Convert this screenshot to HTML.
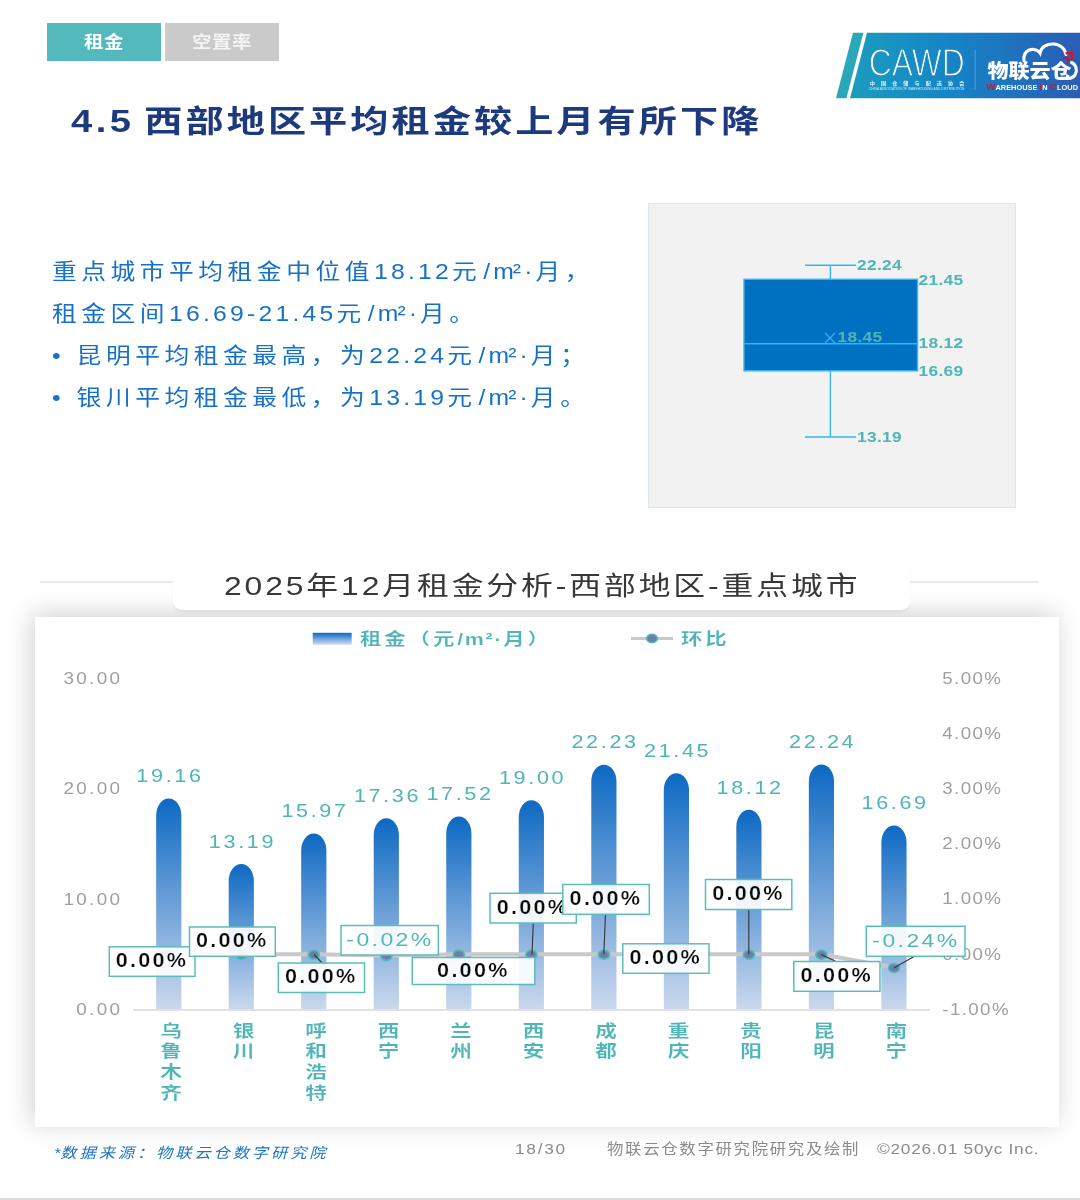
<!DOCTYPE html>
<html lang="zh-CN"><head><meta charset="utf-8"><title>4.5 西部地区平均租金较上月有所下降</title>
<style>
html,body{margin:0;padding:0}
body{width:1080px;height:1200px;position:relative;overflow:hidden;background:#fff;font-family:"Liberation Sans","Noto Sans CJK SC",sans-serif;}
svg text{font-family:"Liberation Sans","Noto Sans CJK SC",sans-serif;}
.abs{position:absolute}
</style></head><body>
<div class="abs" style="left:47px;top:23px;width:113.5px;height:38px;background:#53b9bd"></div>
<div class="abs" style="left:165px;top:23px;width:114px;height:38px;background:#c9cac9"></div>
<div style="position:absolute;top:30.5px;line-height:23.1px;font-size:16.5px;color:#fff;font-weight:700;white-space:nowrap;letter-spacing:0.5px;left:104px;transform-origin:50% 50%;transform:translateX(-50%) scaleX(1.18);">租金</div>
<div style="position:absolute;top:30.5px;line-height:23.1px;font-size:16.5px;color:#f4f4f4;font-weight:700;white-space:nowrap;letter-spacing:0.5px;left:222.3px;transform-origin:50% 50%;transform:translateX(-50%) scaleX(1.18);">空置率</div>
<svg class="abs" style="left:830px;top:28px" width="250" height="76" viewBox="830 28 250 76">
<defs><linearGradient id="lg" gradientUnits="userSpaceOnUse" x1="849" x2="1080" y1="0" y2="0"><stop offset="0" stop-color="#1b9dbe"/><stop offset="0.45" stop-color="#1584c7"/><stop offset="1" stop-color="#2b5db5"/></linearGradient></defs>
<polygon points="853,32.7 863.4,32.7 846.4,98.2 836,98.2" fill="#2aa7b8"/>
<polygon points="867,32.7 1080,32.7 1080,98.2 850,98.2" fill="url(#lg)"/>
<line x1="975.2" y1="50" x2="975.2" y2="89.5" stroke="#58a4db" stroke-width="0.9"/>
<text x="868.8" y="76.4" font-size="38.5" textLength="96" lengthAdjust="spacingAndGlyphs" fill="#fff" stroke="url(#lg)" stroke-width="1.3">CAWD</text>
<text x="869.8" y="85" font-size="5.1" font-weight="700" textLength="94.5" lengthAdjust="spacing" fill="#e4f6fb">中国仓储与配送协会</text>
<text x="869" y="90.4" font-size="3" textLength="95.3" lengthAdjust="spacingAndGlyphs" fill="#cfe8f8">CHINA ASSOCIATION OF WAREHOUSING AND DISTRIBUTION</text>
<text x="987.4" y="78.3" font-size="19.5" font-weight="900" textLength="84" lengthAdjust="spacingAndGlyphs" fill="#fff">物联云仓</text>
<g fill="none" stroke="#fff" stroke-width="3.1" stroke-linecap="round">
<path d="M1024,61 C1023,53 1028,48.5 1034,49.5 C1037,50 1039,51.5 1040,53 C1041,47 1047,43.8 1053.5,44 C1060,44.2 1065,48.5 1066,54.5"/>
<path d="M1071.5,62.5 C1076,64.5 1077.5,70 1075.5,74 C1074,77.3 1071.5,78.4 1068,78.4 L1060,78.4"/>
</g>
<path d="M1065.6,53.2 L1072,53.2 L1072,59.5" fill="none" stroke="#e20f1c" stroke-width="2.4"/>
<path d="M1063,58.2 L1068,58.2 L1068,62.8" fill="none" stroke="#c4161f" stroke-width="1.8"/>
<text x="986" y="89.6" font-size="7.1" font-weight="700" textLength="92" lengthAdjust="spacingAndGlyphs" fill="#fff"><tspan fill="#e20f1c" font-size="9.6">W</tspan>AREHOUSE <tspan fill="#e20f1c" font-size="9.6">I</tspan>N <tspan fill="#e20f1c" font-size="9.6">C</tspan>LOUD</text>
</svg>
<div style="position:absolute;top:100.3px;line-height:43.4px;font-size:31px;color:#1e3a7e;font-weight:700;white-space:nowrap;letter-spacing:2.5px;left:70.5px;transform-origin:0 50%;transform:scaleX(1.23);"><span style="letter-spacing:2.8px">4.5</span><span style="letter-spacing:-0.52px;white-space:pre"> </span>西部地区平均租金较上月有所下降</div>
<div style="position:absolute;top:256.9px;line-height:30.1px;font-size:21.5px;color:#1771c6;font-weight:400;white-space:nowrap;letter-spacing:3.95px;left:52px;transform-origin:0 50%;transform:scaleX(1.15);">重点城市平均租金中位值<span style="letter-spacing:2.8px">18.12</span>元<span style="letter-spacing:2.7px;margin-left:1.7px">/</span><span style="letter-spacing:-0.8px">m</span><span style="letter-spacing:2.7px">²·</span>月，</div>
<div style="position:absolute;top:298.9px;line-height:30.1px;font-size:21.5px;color:#1771c6;font-weight:400;white-space:nowrap;letter-spacing:3.95px;left:52px;transform-origin:0 50%;transform:scaleX(1.15);">租金区间<span style="letter-spacing:2.8px">16.69-21.45</span>元<span style="letter-spacing:2.7px;margin-left:1.7px">/</span><span style="letter-spacing:-0.8px">m</span><span style="letter-spacing:2.7px">²·</span>月。</div>
<div style="position:absolute;top:340.9px;line-height:30.1px;font-size:21.5px;color:#1771c6;font-weight:400;white-space:nowrap;letter-spacing:3.95px;left:52px;transform-origin:0 50%;transform:scaleX(1.15);">•&nbsp;昆明平均租金最高，为<span style="letter-spacing:2.8px">22.24</span>元<span style="letter-spacing:2.7px;margin-left:1.7px">/</span><span style="letter-spacing:-0.8px">m</span><span style="letter-spacing:2.7px">²·</span>月；</div>
<div style="position:absolute;top:382.9px;line-height:30.1px;font-size:21.5px;color:#1771c6;font-weight:400;white-space:nowrap;letter-spacing:3.95px;left:52px;transform-origin:0 50%;transform:scaleX(1.15);">•&nbsp;银川平均租金最低，为<span style="letter-spacing:2.8px">13.19</span>元<span style="letter-spacing:2.7px;margin-left:1.7px">/</span><span style="letter-spacing:-0.8px">m</span><span style="letter-spacing:2.7px">²·</span>月。</div>
<svg class="abs" style="left:640px;top:195px" width="390" height="325" viewBox="640 195 390 325">
<rect x="648.5" y="203.5" width="367" height="304" fill="#f2f2f2" stroke="#dde6f5" stroke-width="1.2"/>
<g stroke="#33b5f0" stroke-width="1.4" fill="none">
<line x1="830.4" y1="265.3" x2="830.4" y2="279"/><line x1="805" y1="265.3" x2="856" y2="265.3"/>
<line x1="830.4" y1="371" x2="830.4" y2="437"/><line x1="805" y1="437" x2="856" y2="437"/>
<rect x="744" y="279.3" width="173.5" height="91.5" fill="#0070c0"/>
<line x1="744" y1="343.8" x2="917.5" y2="343.8"/>
<path d="M825,333 L835,343 M835,333 L825,343" stroke-width="1.1"/>
</g>
<text transform="translate(857.00,269.80) scale(1.12,1)" font-size="15.5" fill="#4fb5b6" font-weight="700" letter-spacing="0.3" text-anchor="start" >22.24</text>
<text transform="translate(918.50,285.00) scale(1.12,1)" font-size="15.5" fill="#4fb5b6" font-weight="700" letter-spacing="0.3" text-anchor="start" >21.45</text>
<text transform="translate(918.50,348.00) scale(1.12,1)" font-size="15.5" fill="#4fb5b6" font-weight="700" letter-spacing="0.3" text-anchor="start" >18.12</text>
<text transform="translate(918.50,376.00) scale(1.12,1)" font-size="15.5" fill="#4fb5b6" font-weight="700" letter-spacing="0.3" text-anchor="start" >16.69</text>
<text transform="translate(857.00,442.40) scale(1.12,1)" font-size="15.5" fill="#4fb5b6" font-weight="700" letter-spacing="0.3" text-anchor="start" >13.19</text>
<text transform="translate(837.50,342.40) scale(1.12,1)" font-size="15.5" fill="#4fb5b6" font-weight="700" letter-spacing="0.3" text-anchor="start" >18.45</text>
</svg>
<div class="abs" style="left:40px;top:581.3px;width:998.5px;height:1.4px;background:#ebebeb"></div>
<div class="abs" style="left:35px;top:617px;width:1024px;height:510px;background:#fff;box-shadow:-3px -3px 24px rgba(0,0,0,0.19)"></div>
<div class="abs" style="left:173px;top:556px;width:737px;height:54px;background:#fff;border-radius:9px;box-shadow:0 4px 5px -2px rgba(0,0,0,0.07)"></div>
<div class="abs" style="left:36px;top:618px;width:1021px;height:30px;background:#fff"></div>
<div style="position:absolute;top:567.7px;line-height:37.1px;font-size:26.5px;color:#383838;font-weight:400;white-space:nowrap;letter-spacing:2.42px;left:224px;transform-origin:0 50%;transform:scaleX(1.2);">2025年12月租金分析-西部地区-重点城市</div>
<svg class="abs" style="left:35px;top:617px" width="1023" height="510" viewBox="35 617 1023 510">
<defs>
<linearGradient id="bg" x1="0" x2="0" y1="0" y2="1"><stop offset="0" stop-color="#0d69c3"/><stop offset="1" stop-color="#cbd8ed"/></linearGradient>
<linearGradient id="lgd" x1="0" x2="0" y1="0" y2="1"><stop offset="0" stop-color="#0d69c3"/><stop offset="1" stop-color="#d2dff1"/></linearGradient>
</defs>
<rect x="312.7" y="632.8" width="39" height="12" fill="url(#lgd)"/>
<text transform="translate(360.00,644.80) scale(1.3,1)" font-size="16.5" fill="#4fb5b6" font-weight="700" letter-spacing="2.2" text-anchor="start" stroke="#fff" stroke-width="0.12">租金（元<tspan letter-spacing="1.3">/m²·</tspan>月）</text>
<line x1="631" y1="638.5" x2="673" y2="638.5" stroke="#c9c9c9" stroke-width="3"/>
<ellipse cx="652" cy="638.5" rx="5.3" ry="4.2" fill="#6f7ea8" stroke="#4fb9b9" stroke-width="1.6"/>
<text transform="translate(681.00,644.80) scale(1.3,1)" font-size="16.5" fill="#4fb5b6" font-weight="700" letter-spacing="2.2" text-anchor="start" stroke="#fff" stroke-width="0.12">环比</text>
<text transform="translate(122.30,1014.60) scale(1.16,1)" font-size="16.3" fill="#9f9f9f" font-weight="400" letter-spacing="2.0" text-anchor="end" >0.00</text>
<text transform="translate(122.30,904.50) scale(1.16,1)" font-size="16.3" fill="#9f9f9f" font-weight="400" letter-spacing="2.0" text-anchor="end" >10.00</text>
<text transform="translate(122.30,794.40) scale(1.16,1)" font-size="16.3" fill="#9f9f9f" font-weight="400" letter-spacing="2.0" text-anchor="end" >20.00</text>
<text transform="translate(122.30,684.30) scale(1.16,1)" font-size="16.3" fill="#9f9f9f" font-weight="400" letter-spacing="2.0" text-anchor="end" >30.00</text>
<text transform="translate(942.30,1014.60) scale(1.15,1)" font-size="16.3" fill="#9f9f9f" font-weight="400" letter-spacing="1.2" text-anchor="start" >-1.00%</text>
<text transform="translate(942.30,959.50) scale(1.15,1)" font-size="16.3" fill="#9f9f9f" font-weight="400" letter-spacing="1.2" text-anchor="start" >0.00%</text>
<text transform="translate(942.30,904.40) scale(1.15,1)" font-size="16.3" fill="#9f9f9f" font-weight="400" letter-spacing="1.2" text-anchor="start" >1.00%</text>
<text transform="translate(942.30,849.30) scale(1.15,1)" font-size="16.3" fill="#9f9f9f" font-weight="400" letter-spacing="1.2" text-anchor="start" >2.00%</text>
<text transform="translate(942.30,794.20) scale(1.15,1)" font-size="16.3" fill="#9f9f9f" font-weight="400" letter-spacing="1.2" text-anchor="start" >3.00%</text>
<text transform="translate(942.30,739.10) scale(1.15,1)" font-size="16.3" fill="#9f9f9f" font-weight="400" letter-spacing="1.2" text-anchor="start" >4.00%</text>
<text transform="translate(942.30,684.00) scale(1.15,1)" font-size="16.3" fill="#9f9f9f" font-weight="400" letter-spacing="1.2" text-anchor="start" >5.00%</text>
<line x1="133" y1="1010" x2="930" y2="1010" stroke="#e2e2e2" stroke-width="1.8"/>
<path d="M156.15,1009.3 L156.15,815.41 A12.6,17 0 0 1 181.35,815.41 L181.35,1009.3 Z" fill="url(#bg)"/>
<text transform="translate(169.95,782.11) scale(1.2,1)" font-size="18" fill="#4fb5b6" font-weight="400" letter-spacing="2.2" text-anchor="middle" >19.16</text>
<path d="M228.67,1009.3 L228.67,881.12 A12.6,17 0 0 1 253.87,881.12 L253.87,1009.3 Z" fill="url(#bg)"/>
<text transform="translate(242.47,847.82) scale(1.2,1)" font-size="18" fill="#4fb5b6" font-weight="400" letter-spacing="2.2" text-anchor="middle" >13.19</text>
<path d="M301.19,1009.3 L301.19,850.52 A12.6,17 0 0 1 326.39,850.52 L326.39,1009.3 Z" fill="url(#bg)"/>
<text transform="translate(314.99,817.22) scale(1.2,1)" font-size="18" fill="#4fb5b6" font-weight="400" letter-spacing="2.2" text-anchor="middle" >15.97</text>
<path d="M373.71,1009.3 L373.71,835.22 A12.6,17 0 0 1 398.91,835.22 L398.91,1009.3 Z" fill="url(#bg)"/>
<text transform="translate(387.51,801.92) scale(1.2,1)" font-size="18" fill="#4fb5b6" font-weight="400" letter-spacing="2.2" text-anchor="middle" >17.36</text>
<path d="M446.23,1009.3 L446.23,833.46 A12.6,17 0 0 1 471.43,833.46 L471.43,1009.3 Z" fill="url(#bg)"/>
<text transform="translate(460.03,800.16) scale(1.2,1)" font-size="18" fill="#4fb5b6" font-weight="400" letter-spacing="2.2" text-anchor="middle" >17.52</text>
<path d="M518.75,1009.3 L518.75,817.17 A12.6,17 0 0 1 543.95,817.17 L543.95,1009.3 Z" fill="url(#bg)"/>
<text transform="translate(532.55,783.87) scale(1.2,1)" font-size="18" fill="#4fb5b6" font-weight="400" letter-spacing="2.2" text-anchor="middle" >19.00</text>
<path d="M591.27,1009.3 L591.27,781.61 A12.6,17 0 0 1 616.47,781.61 L616.47,1009.3 Z" fill="url(#bg)"/>
<text transform="translate(605.07,748.31) scale(1.2,1)" font-size="18" fill="#4fb5b6" font-weight="400" letter-spacing="2.2" text-anchor="middle" >22.23</text>
<path d="M663.79,1009.3 L663.79,790.20 A12.6,17 0 0 1 688.99,790.20 L688.99,1009.3 Z" fill="url(#bg)"/>
<text transform="translate(677.59,756.90) scale(1.2,1)" font-size="18" fill="#4fb5b6" font-weight="400" letter-spacing="2.2" text-anchor="middle" >21.45</text>
<path d="M736.31,1009.3 L736.31,826.85 A12.6,17 0 0 1 761.51,826.85 L761.51,1009.3 Z" fill="url(#bg)"/>
<text transform="translate(750.11,793.55) scale(1.2,1)" font-size="18" fill="#4fb5b6" font-weight="400" letter-spacing="2.2" text-anchor="middle" >18.12</text>
<path d="M808.83,1009.3 L808.83,781.50 A12.6,17 0 0 1 834.03,781.50 L834.03,1009.3 Z" fill="url(#bg)"/>
<text transform="translate(822.63,748.20) scale(1.2,1)" font-size="18" fill="#4fb5b6" font-weight="400" letter-spacing="2.2" text-anchor="middle" >22.24</text>
<path d="M881.35,1009.3 L881.35,842.59 A12.6,17 0 0 1 906.55,842.59 L906.55,1009.3 Z" fill="url(#bg)"/>
<text transform="translate(895.15,809.29) scale(1.2,1)" font-size="18" fill="#4fb5b6" font-weight="400" letter-spacing="2.2" text-anchor="middle" >16.69</text>
<text transform="translate(171.05,1036.60) scale(1.26,1)" font-size="17.2" fill="#4fb5b6" font-weight="700" letter-spacing="0" text-anchor="middle" stroke="#fff" stroke-width="0.12"><tspan x="0" dy="0">乌</tspan><tspan x="0" dy="20.8">鲁</tspan><tspan x="0" dy="20.8">木</tspan><tspan x="0" dy="20.8">齐</tspan></text>
<text transform="translate(243.57,1036.60) scale(1.26,1)" font-size="17.2" fill="#4fb5b6" font-weight="700" letter-spacing="0" text-anchor="middle" stroke="#fff" stroke-width="0.12"><tspan x="0" dy="0">银</tspan><tspan x="0" dy="20.8">川</tspan></text>
<text transform="translate(316.09,1036.60) scale(1.26,1)" font-size="17.2" fill="#4fb5b6" font-weight="700" letter-spacing="0" text-anchor="middle" stroke="#fff" stroke-width="0.12"><tspan x="0" dy="0">呼</tspan><tspan x="0" dy="20.8">和</tspan><tspan x="0" dy="20.8">浩</tspan><tspan x="0" dy="20.8">特</tspan></text>
<text transform="translate(388.61,1036.60) scale(1.26,1)" font-size="17.2" fill="#4fb5b6" font-weight="700" letter-spacing="0" text-anchor="middle" stroke="#fff" stroke-width="0.12"><tspan x="0" dy="0">西</tspan><tspan x="0" dy="20.8">宁</tspan></text>
<text transform="translate(461.13,1036.60) scale(1.26,1)" font-size="17.2" fill="#4fb5b6" font-weight="700" letter-spacing="0" text-anchor="middle" stroke="#fff" stroke-width="0.12"><tspan x="0" dy="0">兰</tspan><tspan x="0" dy="20.8">州</tspan></text>
<text transform="translate(533.65,1036.60) scale(1.26,1)" font-size="17.2" fill="#4fb5b6" font-weight="700" letter-spacing="0" text-anchor="middle" stroke="#fff" stroke-width="0.12"><tspan x="0" dy="0">西</tspan><tspan x="0" dy="20.8">安</tspan></text>
<text transform="translate(606.17,1036.60) scale(1.26,1)" font-size="17.2" fill="#4fb5b6" font-weight="700" letter-spacing="0" text-anchor="middle" stroke="#fff" stroke-width="0.12"><tspan x="0" dy="0">成</tspan><tspan x="0" dy="20.8">都</tspan></text>
<text transform="translate(678.69,1036.60) scale(1.26,1)" font-size="17.2" fill="#4fb5b6" font-weight="700" letter-spacing="0" text-anchor="middle" stroke="#fff" stroke-width="0.12"><tspan x="0" dy="0">重</tspan><tspan x="0" dy="20.8">庆</tspan></text>
<text transform="translate(751.21,1036.60) scale(1.26,1)" font-size="17.2" fill="#4fb5b6" font-weight="700" letter-spacing="0" text-anchor="middle" stroke="#fff" stroke-width="0.12"><tspan x="0" dy="0">贵</tspan><tspan x="0" dy="20.8">阳</tspan></text>
<text transform="translate(823.73,1036.60) scale(1.26,1)" font-size="17.2" fill="#4fb5b6" font-weight="700" letter-spacing="0" text-anchor="middle" stroke="#fff" stroke-width="0.12"><tspan x="0" dy="0">昆</tspan><tspan x="0" dy="20.8">明</tspan></text>
<text transform="translate(896.25,1036.60) scale(1.26,1)" font-size="17.2" fill="#4fb5b6" font-weight="700" letter-spacing="0" text-anchor="middle" stroke="#fff" stroke-width="0.12"><tspan x="0" dy="0">南</tspan><tspan x="0" dy="20.8">宁</tspan></text>
<polyline points="168.75,954.30 241.27,954.30 313.79,954.30 386.31,955.40 458.83,954.30 531.35,954.30 603.87,954.30 676.39,954.30 748.91,954.30 821.43,954.30 893.95,967.51" fill="none" stroke="#c9c9c9" stroke-width="4" stroke-linejoin="round"/>
<ellipse cx="168.75" cy="954.80" rx="5.5" ry="4.4" fill="#6f7ea8" stroke="#4fb9b9" stroke-width="1.7"/>
<ellipse cx="241.27" cy="954.80" rx="5.5" ry="4.4" fill="#6f7ea8" stroke="#4fb9b9" stroke-width="1.7"/>
<ellipse cx="313.79" cy="954.80" rx="5.5" ry="4.4" fill="#6f7ea8" stroke="#4fb9b9" stroke-width="1.7"/>
<ellipse cx="386.31" cy="955.90" rx="5.5" ry="4.4" fill="#6f7ea8" stroke="#4fb9b9" stroke-width="1.7"/>
<ellipse cx="458.83" cy="954.80" rx="5.5" ry="4.4" fill="#6f7ea8" stroke="#4fb9b9" stroke-width="1.7"/>
<ellipse cx="531.35" cy="954.80" rx="5.5" ry="4.4" fill="#6f7ea8" stroke="#4fb9b9" stroke-width="1.7"/>
<ellipse cx="603.87" cy="954.80" rx="5.5" ry="4.4" fill="#6f7ea8" stroke="#4fb9b9" stroke-width="1.7"/>
<ellipse cx="676.39" cy="954.80" rx="5.5" ry="4.4" fill="#6f7ea8" stroke="#4fb9b9" stroke-width="1.7"/>
<ellipse cx="748.91" cy="954.80" rx="5.5" ry="4.4" fill="#6f7ea8" stroke="#4fb9b9" stroke-width="1.7"/>
<ellipse cx="821.43" cy="954.80" rx="5.5" ry="4.4" fill="#6f7ea8" stroke="#4fb9b9" stroke-width="1.7"/>
<ellipse cx="893.95" cy="968.01" rx="5.5" ry="4.4" fill="#6f7ea8" stroke="#4fb9b9" stroke-width="1.7"/>
<line x1="314" y1="954.5" x2="326" y2="967" stroke="#333" stroke-width="1.1"/>
<line x1="532" y1="954.5" x2="533.3" y2="923" stroke="#333" stroke-width="1.1"/>
<line x1="603.8" y1="954.5" x2="605.5" y2="914" stroke="#333" stroke-width="1.1"/>
<line x1="748.8" y1="954.5" x2="748.8" y2="909.5" stroke="#333" stroke-width="1.1"/>
<line x1="821.3" y1="954.5" x2="836" y2="961.5" stroke="#333" stroke-width="1.1"/>
<line x1="893.8" y1="968" x2="915" y2="956" stroke="#333" stroke-width="1.1"/>
<rect x="109.3" y="946.8" width="85.7" height="29.5" fill="#fff" fill-opacity="0.9" stroke="#5bbdbb" stroke-width="1.5"/>
<text transform="translate(151.95,967.05) scale(1.12,1)" font-size="19.3" fill="#0a0a0a" font-weight="700" letter-spacing="2.0" text-anchor="middle" stroke="#fff" stroke-width="0.22">0.00%</text>
<rect x="189.5" y="927" width="85.8" height="29.3" fill="#fff" fill-opacity="0.9" stroke="#5bbdbb" stroke-width="1.5"/>
<text transform="translate(232.20,947.15) scale(1.12,1)" font-size="19.3" fill="#0a0a0a" font-weight="700" letter-spacing="2.0" text-anchor="middle" stroke="#fff" stroke-width="0.22">0.00%</text>
<rect x="278.3" y="963" width="86.2" height="29.5" fill="#fff" fill-opacity="0.9" stroke="#5bbdbb" stroke-width="1.5"/>
<text transform="translate(321.20,983.25) scale(1.12,1)" font-size="19.3" fill="#0a0a0a" font-weight="700" letter-spacing="2.0" text-anchor="middle" stroke="#fff" stroke-width="0.22">0.00%</text>
<rect x="341" y="925.5" width="97.3" height="29.5" fill="#fff" fill-opacity="0.9" stroke="#5bbdbb" stroke-width="1.5"/>
<text transform="translate(389.95,946.15) scale(1.22,1)" font-size="18.8" fill="#4fb8b8" font-weight="400" letter-spacing="2.0" text-anchor="middle" >-0.02%</text>
<rect x="412.3" y="957.5" width="122.5" height="27.0" fill="#fff" fill-opacity="0.9" stroke="#5bbdbb" stroke-width="1.5"/>
<text transform="translate(473.35,976.50) scale(1.12,1)" font-size="19.3" fill="#0a0a0a" font-weight="700" letter-spacing="2.0" text-anchor="middle" stroke="#fff" stroke-width="0.22">0.00%</text>
<rect x="490" y="893.3" width="86.3" height="29.7" fill="#fff" fill-opacity="0.9" stroke="#5bbdbb" stroke-width="1.5"/>
<text transform="translate(532.95,913.65) scale(1.12,1)" font-size="19.3" fill="#0a0a0a" font-weight="700" letter-spacing="2.0" text-anchor="middle" stroke="#fff" stroke-width="0.22">0.00%</text>
<rect x="562.8" y="884.5" width="86.5" height="29.8" fill="#fff" fill-opacity="0.9" stroke="#5bbdbb" stroke-width="1.5"/>
<text transform="translate(605.85,904.90) scale(1.12,1)" font-size="19.3" fill="#0a0a0a" font-weight="700" letter-spacing="2.0" text-anchor="middle" stroke="#fff" stroke-width="0.22">0.00%</text>
<rect x="622.8" y="943.8" width="86.2" height="29.5" fill="#fff" fill-opacity="0.9" stroke="#5bbdbb" stroke-width="1.5"/>
<text transform="translate(665.70,964.05) scale(1.12,1)" font-size="19.3" fill="#0a0a0a" font-weight="700" letter-spacing="2.0" text-anchor="middle" stroke="#fff" stroke-width="0.22">0.00%</text>
<rect x="705.5" y="879.5" width="86.3" height="30.0" fill="#fff" fill-opacity="0.9" stroke="#5bbdbb" stroke-width="1.5"/>
<text transform="translate(748.45,900.00) scale(1.12,1)" font-size="19.3" fill="#0a0a0a" font-weight="700" letter-spacing="2.0" text-anchor="middle" stroke="#fff" stroke-width="0.22">0.00%</text>
<rect x="793.8" y="961.5" width="86.2" height="29.8" fill="#fff" fill-opacity="0.9" stroke="#5bbdbb" stroke-width="1.5"/>
<text transform="translate(836.70,981.90) scale(1.12,1)" font-size="19.3" fill="#0a0a0a" font-weight="700" letter-spacing="2.0" text-anchor="middle" stroke="#fff" stroke-width="0.22">0.00%</text>
<rect x="866.3" y="926.3" width="98.7" height="30.0" fill="#fff" fill-opacity="0.9" stroke="#5bbdbb" stroke-width="1.5"/>
<text transform="translate(915.95,947.20) scale(1.22,1)" font-size="18.8" fill="#4fb8b8" font-weight="400" letter-spacing="2.0" text-anchor="middle" >-0.24%</text>
</svg>
<div style="position:absolute;top:1142.8px;line-height:20.3px;font-size:14.5px;color:#1a74c4;font-weight:400;white-space:nowrap;letter-spacing:2.6px;left:54px;transform-origin:0 50%;transform:scaleX(1.12);font-style:italic;"><span style="letter-spacing:0">*</span>数据来源：物联云仓数字研究院</div>
<div style="position:absolute;top:1138.3px;line-height:21.0px;font-size:15px;color:#8a8a8a;font-weight:400;white-space:nowrap;letter-spacing:1.5px;left:515px;transform-origin:0 50%;transform:scaleX(1.15);">18/30</div>
<div style="position:absolute;top:1138.6px;line-height:20.3px;font-size:14.5px;color:#8a8a8a;font-weight:400;white-space:nowrap;letter-spacing:1.5px;left:606.5px;transform-origin:0 50%;transform:scaleX(1.13);">物联云仓数字研究院研究及绘制</div>
<div style="position:absolute;top:1138.3px;line-height:21.0px;font-size:15px;color:#8a8a8a;font-weight:400;white-space:nowrap;letter-spacing:0.65px;left:877px;transform-origin:0 50%;transform:scaleX(1.15);">©2026.01 50yc Inc.</div>
<div class="abs" style="left:0;top:1198.4px;width:1080px;height:1.6px;background:#dcdcdc"></div>
</body></html>
